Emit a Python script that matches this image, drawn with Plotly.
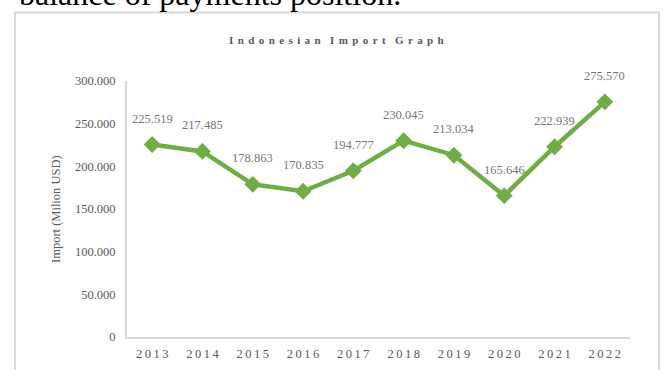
import plotly.graph_objects as go

# Indonesian imports, million USD
years = ["2013", "2014", "2015", "2016", "2017", "2018", "2019", "2020", "2021", "2022"]
imports = [225519, 217485, 178863, 170835, 194777, 230045, 213034, 165646, 222939, 275570]
value_labels = ["225.519", "217.485", "178.863", "170.835", "194.777",
                "230.045", "213.034", "165.646", "222.939", "275.570"]
y_ticks = [0, 50000, 100000, 150000, 200000, 250000, 300000]
y_tick_labels = ["0", "50.000", "100.000", "150.000", "200.000", "250.000", "300.000"]

SERIF = "Liberation Serif, Times New Roman, serif"
THIN = "\u2009"


def spaced(s, gap=THIN):
    return gap.join(list(s))


GREEN = "#70AD47"
GRAY_TEXT = "#595959"
LABEL_GRAY = "#767676"
AXIS_GRAY = "#d9d9d9"

# plot area in pixels (figure is 663 x 370)
W, H = 663, 370
L, R, T, B = 127, 33, 81, 33
pw, ph = W - L - R, H - T - B


def px_x(x):
    return (x - L) / pw


def px_y(y):
    return (H - B - y) / ph


x_idx = list(range(len(years)))

fig = go.Figure()
fig.add_trace(go.Scatter(
    x=x_idx, y=imports, mode="lines+markers",
    line=dict(color=GREEN, width=4.5),
    marker=dict(symbol="diamond", size=13, color=GREEN),
    hoverinfo="skip", showlegend=False, cliponaxis=False,
))

annotations = []
for i, v, lab in zip(x_idx, imports, value_labels):
    annotations.append(dict(
        x=i, y=v, xref="x", yref="y", text=lab, showarrow=False,
        yshift=26, yanchor="middle", xanchor="center",
        font=dict(family=SERIF, size=12.5, color=LABEL_GRAY),
    ))

# chart title (letter-spaced)
title_text = (THIN * 3 + " ").join(spaced(w, THIN + THIN) for w in "Indonesian Import Graph".split(" "))
annotations.append(dict(
    x=px_x(336), y=px_y(40), xref="paper", yref="paper",
    text="<b>" + title_text + "</b>",
    showarrow=False, xanchor="center", yanchor="middle",
    font=dict(family=SERIF, size=11, color=GRAY_TEXT),
))

# y-axis title
annotations.append(dict(
    x=px_x(56), y=px_y(209), xref="paper", yref="paper",
    text="Import (Milion USD)", textangle=-90, showarrow=False,
    xanchor="center", yanchor="middle",
    font=dict(family=SERIF, size=12.5, color=GRAY_TEXT),
))

# running document text above the chart
annotations.append(dict(
    x=px_x(17), y=px_y(14), xref="paper", yref="paper",
    text="balance of payments position.", showarrow=False,
    xanchor="left", yanchor="bottom",
    font=dict(family=SERIF, size=32, color="#000000"),
))

shapes = [dict(
    type="rect", xref="paper", yref="paper",
    x0=px_x(15), x1=px_x(659), y0=px_y(380), y1=px_y(12.5),
    line=dict(color=AXIS_GRAY, width=2), fillcolor="rgba(0,0,0,0)", layer="below",
)]

fig.update_layout(
    template="none",
    width=W, height=H,
    margin=dict(l=L, r=R, t=T, b=B, pad=0, autoexpand=False),
    paper_bgcolor="white", plot_bgcolor="white",
    font=dict(family=SERIF, color=GRAY_TEXT),
    annotations=annotations, shapes=shapes,
    xaxis=dict(
        tickmode="array", tickvals=x_idx,
        ticktext=[spaced(y, THIN) for y in years],
        showgrid=False, zeroline=False, automargin=False,
        showline=True, linecolor=AXIS_GRAY, linewidth=2,
        ticks="", ticklabelstandoff=4,
        tickfont=dict(family=SERIF, size=12.5, color=GRAY_TEXT),
        range=[-0.5, 9.5], fixedrange=True,
    ),
    yaxis=dict(
        range=[0, 300000], tickmode="array", tickvals=y_ticks, ticktext=y_tick_labels,
        showgrid=False, zeroline=False, automargin=False,
        showline=True, linecolor=AXIS_GRAY, linewidth=2,
        ticks="", ticklabelstandoff=7,
        tickfont=dict(family=SERIF, size=12.5, color=GRAY_TEXT),
        fixedrange=True,
    ),
)

fig.write_html("out.html", config={"displayModeBar": False})
